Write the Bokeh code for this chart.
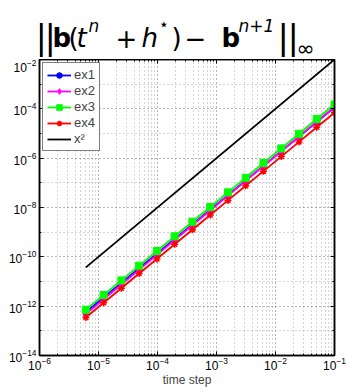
from bokeh.plotting import figure
from bokeh.layouts import column
from bokeh.models import FixedTicker, LogAxis, Legend, LegendItem, CustomJSTickFormatter, Range1d
from bokeh.core.properties import value
from bokeh.embed import file_html
from bokeh.resources import INLINE

# ---------------- data ----------------
h = [1e-1, 5e-2, 2.5e-2, 1.25e-2, 6.25e-3, 3.125e-3, 1.5625e-3, 7.8125e-4,
     3.90625e-4, 1.953125e-4, 9.765625e-5, 4.8828125e-5, 2.44140625e-5,
     1.220703125e-5, 6.103515625e-6]
ex1 = [1.15e-4, 2.93e-5, 7.48e-6, 1.91e-6, 4.88e-7, 1.24e-7, 3.18e-8, 8.11e-9,
       2.07e-9, 5.28e-10, 1.35e-10, 3.44e-11, 8.79e-12, 2.24e-12, 5.73e-13]
ex2 = [1.2e-4, 3.02e-5, 7.59e-6, 1.91e-6, 4.79e-7, 1.20e-7, 3.02e-8, 7.59e-9,
       1.91e-9, 4.79e-10, 1.20e-10, 3.02e-11, 7.59e-12, 1.91e-12, 4.79e-13]
ex3 = [1.51e-4, 3.85e-5, 9.8e-6, 2.49e-6, 6.34e-7, 1.61e-7, 4.11e-8, 1.045e-8,
       2.66e-9, 6.77e-10, 1.72e-10, 4.38e-11, 1.11e-11, 2.84e-12, 7.22e-13]
ex4 = [7.0e-5, 1.79e-5, 4.56e-6, 1.16e-6, 2.97e-7, 7.59e-8, 1.94e-8, 4.94e-9,
       1.26e-9, 3.22e-10, 8.22e-11, 2.10e-11, 5.36e-12, 1.37e-12, 3.49e-13]
ref_x = [6.103515625e-6, 1e-1]
ref_y = [3.725e-11, 1e-2]

x_major = [1e-6, 1e-5, 1e-4, 1e-3, 1e-2, 1e-1]
y_major = [1e-14, 1e-12, 1e-10, 1e-8, 1e-6, 1e-4, 1e-2]
y_minor = [1e-13, 1e-11, 1e-9, 1e-7, 1e-5, 1e-3]
x_minor = [m * d for d in [1e-6, 1e-5, 1e-4, 1e-3, 1e-2] for m in range(2, 10)]
x_label = "time step"

# title pieces: text, left x, baseline y, font size, style
title_pieces = [
    ("|", 35, 36, 34, "normal"),
    ("|", 44, 36, 34, "normal"),
    ("b", 52, 37, 26, "bold"),
    ("(", 68, 37, 26, "normal"),
    ("t", 76, 37, 26, "italic"),
    ("n", 88, 25, 17, "italic"),
    ("+", 115, 37, 26, "normal"),
    ("h", 141, 37, 26, "italic"),
    ("⋆", 158, 23, 17, "normal"),
    (")", 171, 37, 26, "normal"),
    ("−", 184, 37, 26, "normal"),
    ("b", 221, 37, 26, "bold"),
    ("n+1", 238, 25, 17, "italic"),
    ("|", 277, 36, 34, "normal"),
    ("|", 287, 36, 34, "normal"),
    ("∞", 296, 48, 22, "normal"),
]

FL, FR, T = 39, 334, 59
TF = "DejaVu Sans"
FONT = "Liberation Sans"

# ---------------- title strip (frame aligned with the main plot frame) ----------------
t = figure(frame_width=FR - FL, height=T, x_range=Range1d(FL, FR), y_range=Range1d(T, 0),
           output_backend="svg", toolbar_location=None,
           min_border_left=FL, min_border_right=12, min_border_top=0, min_border_bottom=0,
           outline_line_color=None)
t.axis.visible = False
t.grid.visible = False
for txt, sx, sy, fs, style in title_pieces:
    t.text(x=[sx], y=[sy], text=[txt], text_font=value(TF),
           text_font_size=f"{fs}px", text_font_style=style,
           text_align="left", text_baseline="alphabetic", text_color="black")

# ---------------- main plot ----------------
p = figure(frame_width=FR - FL, frame_height=296, x_axis_type="log", y_axis_type="log",
           x_range=(1e-6, 1e-1), y_range=(1e-14, 1e-2),
           output_backend="svg", toolbar_location=None,
           min_border_left=FL, min_border_right=12, min_border_top=0,
           min_border_bottom=34)
p.background_fill_color = "white"
p.outline_line_color = "black"
p.outline_line_width = 1.5

for ax in p.xaxis + p.yaxis:
    ax.major_label_text_font = FONT
    ax.major_label_text_font_size = "12px"
    ax.major_label_text_color = "black"
    ax.axis_line_color = "black"
    ax.axis_line_width = 1.5
    ax.major_tick_in = 4
    ax.major_tick_out = 0
    ax.minor_tick_in = 2
    ax.minor_tick_out = 0
    ax.major_tick_line_color = "black"
    ax.minor_tick_line_color = "black"
p.yaxis.major_label_standoff = 3
p.xaxis.major_label_standoff = 1

p.xaxis.ticker = FixedTicker(ticks=x_major, minor_ticks=x_minor)
p.yaxis.ticker = FixedTicker(ticks=y_major, minor_ticks=y_minor)
p.xaxis.axis_label = x_label
p.xaxis.axis_label_text_font = FONT
p.xaxis.axis_label_text_font_size = "12px"
p.xaxis.axis_label_text_font_style = "normal"
p.xaxis.axis_label_standoff = 0

for side in ["above", "right"]:
    ax = LogAxis(ticker=FixedTicker(ticks=x_major if side == "above" else y_major,
                                    minor_ticks=x_minor if side == "above" else y_minor),
                 formatter=CustomJSTickFormatter(code="return ''"),
                 major_label_standoff=0,
                 major_tick_in=4, major_tick_out=0, minor_tick_in=2, minor_tick_out=0,
                 axis_line_color="black", axis_line_width=1.5)
    p.add_layout(ax, side)

p.xgrid.ticker = FixedTicker(ticks=x_major, minor_ticks=x_minor)
p.ygrid.ticker = FixedTicker(ticks=y_major, minor_ticks=y_minor)
for g in [p.xgrid, p.ygrid]:
    g.grid_line_color = "#6a6a6a"
    g.grid_line_dash = "1 3"
    g.grid_line_width = 1
    g.minor_grid_line_color = "#a8a8a8"
    g.minor_grid_line_dash = "1 3"
    g.minor_grid_line_width = 1

items = []
l1 = p.line(h, ex1, line_color="#0000ff", line_width=1.8)
s1 = p.scatter(h, ex1, marker="circle", size=6, color="#0000ff")
items.append(LegendItem(label="ex1", renderers=[l1, s1]))
l2 = p.line(h, ex2, line_color="#ff00ff", line_width=1.8)
s2 = p.scatter(h, ex2, marker="diamond", size=9, color="#ff00ff")
items.append(LegendItem(label="ex2", renderers=[l2, s2]))
l3 = p.line(h, ex3, line_color="#00ff00", line_width=1.8)
s3 = p.scatter(h, ex3, marker="square", size=7, color="#00ff00")
items.append(LegendItem(label="ex3", renderers=[l3, s3]))
l4 = p.line(h, ex4, line_color="#ff0000", line_width=1.8)
s4 = p.scatter(h, ex4, marker="asterisk", size=7, line_color="#ff0000", line_width=1.5)
items.append(LegendItem(label="ex4", renderers=[l4, s4]))
l5 = p.line(ref_x, ref_y, line_color="black", line_width=1.8)
items.append(LegendItem(label="x²", renderers=[l5]))

leg = Legend(items=items, location="top_left", margin=3, padding=4, spacing=1,
             glyph_width=24, glyph_height=14, label_height=14, label_standoff=3,
             label_text_font=FONT, label_text_font_size="13px",
             border_line_color="black", border_line_width=1,
             background_fill_alpha=1.0)
p.add_layout(leg)

open("out.html", "w").write(file_html(column(t, p, spacing=0), INLINE))
